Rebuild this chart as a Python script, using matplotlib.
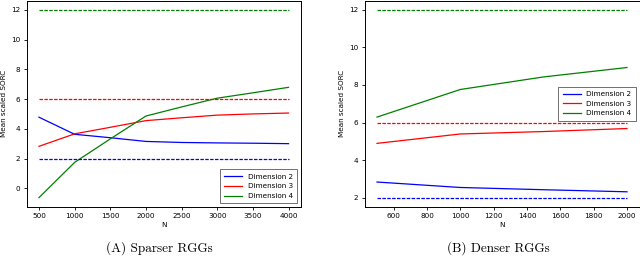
import matplotlib
matplotlib.use("Agg")
from matplotlib import pyplot as plt
import numpy as np

# sparser RGGs
n_sparse = [500, 1000, 1500, 2000, 2500, 3000, 3500, 4000]
dim2_sparse = [4.78, 3.63, 3.40, 3.15, 3.08, 3.05, 3.03, 3.00]
dim3_sparse = [2.82, 3.66, 4.10, 4.55, 4.74, 4.92, 5.00, 5.06]
dim4_sparse = [-0.63, 1.74, 3.32, 4.86, 5.47, 6.06, 6.42, 6.79]

# denser RGGs
n_dense = [500, 1000, 1500, 2000]
dim2_dense = [2.83, 2.54, 2.42, 2.31]
dim3_dense = [4.89, 5.39, 5.52, 5.68]
dim4_dense = [6.29, 7.76, 8.43, 8.93]

# reference levels (dashed)
ref_levels = [2, 6, 12]
colors = ["blue", "red", "green"]
labels = ["Dimension 2", "Dimension 3", "Dimension 4"]

fs = 5.2
lw = 0.9

fig = plt.figure(figsize=(6.4, 2.57), dpi=100)
ax1 = fig.add_axes([26.5 / 640, 50 / 257, 274.5 / 640, 206.5 / 257])
ax2 = fig.add_axes([364.5 / 640, 50 / 257, 275 / 640, 206.5 / 257])

panels = [
    (ax1, n_sparse, [dim2_sparse, dim3_sparse, dim4_sparse], "lower right"),
    (ax2, n_dense, [dim2_dense, dim3_dense, dim4_dense], "center right"),
]

for ax, n, series, loc in panels:
    for vals, c, lab in zip(series, colors, labels):
        ax.plot(n, vals, color=c, lw=lw, label=lab)
    for lvl, c in zip(ref_levels, colors):
        ax.plot([n[0], n[-1]], [lvl, lvl], color=c, lw=lw, ls=(0, (2.8, 1.1)))
    ax.set_xlabel("N", fontsize=fs, labelpad=2)
    ax.set_ylabel("Mean scaled SORC", fontsize=fs, labelpad=3)
    ax.tick_params(labelsize=fs, length=2.5, width=0.6, pad=2)
    for s in ax.spines.values():
        s.set_linewidth(0.7)
    leg = ax.legend(loc=loc, fontsize=fs, handlelength=2.5, borderpad=0.6,
                    labelspacing=0.5, frameon=True, fancybox=False, framealpha=1,
                    edgecolor="0.35")
    leg.get_frame().set_linewidth(0.6)

ax1.set_xticks([500, 1000, 1500, 2000, 2500, 3000, 3500, 4000])
ax1.set_yticks([0, 2, 4, 6, 8, 10, 12])
ax2.set_xticks([600, 800, 1000, 1200, 1400, 1600, 1800, 2000])
ax2.set_yticks([2, 4, 6, 8, 10, 12])

fig.text(159 / 640, 1 - 248 / 257, "(A) Sparser RGGs", ha="center", va="center",
         fontsize=9.5, family="cmr10")
fig.text(498 / 640, 1 - 248 / 257, "(B) Denser RGGs", ha="center", va="center",
         fontsize=9.5, family="cmr10")

fig.savefig("out.png", dpi=100)
